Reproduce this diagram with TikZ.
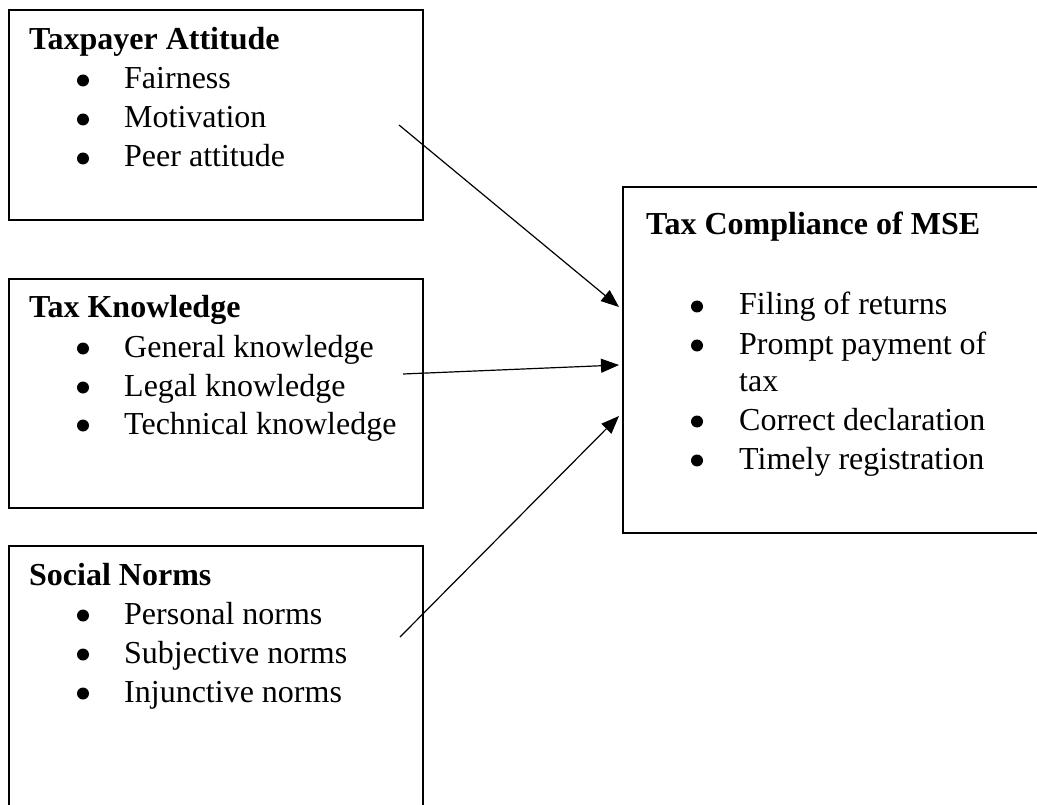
\documentclass[tikz,border=0pt]{standalone}
\usepackage{fontspec}
\setmainfont{Liberation Serif}
\usetikzlibrary{arrows.meta}
\tikzset{
  box/.style={draw=black, line width=1.6pt, anchor=north west, inner sep=0pt},
  txt/.style={anchor=base west, inner sep=0pt, font=\fontsize{32}{39}\selectfont},
  head/.style={txt, font=\fontsize{32}{39}\selectfont\bfseries},
  bul/.style={fill=black},
  conn/.style={line width=1.2pt, -{Triangle[length=18pt,width=14pt]}}
}
\begin{document}
\begin{tikzpicture}[x=1pt,y=-1pt]
\useasboundingbox (0,0) rectangle (1037,805);
\clip (0,0) rectangle (1037,805);
% boxes
\node[box, minimum width=414pt, minimum height=210pt] (b1) at (8,9) {};
\node[box, minimum width=414pt, minimum height=229pt] (b2) at (8,278) {};
\node[box, minimum width=414pt, minimum height=310pt] (b3) at (8,545) {};
\node[box, minimum width=430pt, minimum height=346pt] (b4) at (622,186) {};
% box 1
\node[head] (h1) at (29,50) {Taxpayer Attitude};
\node[txt] (i11) at (124,89) {Fairness};
\node[txt] (i12) at (124,128) {Motivation};
\node[txt] (i13) at (124,167) {Peer attitude};
\foreach \y in {89,128,167} \fill[bul] (83,\y-8.5) circle (6pt);
% box 2
\node[head] (h2) at (29,317) {Tax Knowledge};
\node[txt] (i21) at (124,357) {General knowledge};
\node[txt] (i22) at (124,396) {Legal knowledge};
\node[txt] (i23) at (124,434) {Technical knowledge};
\foreach \y in {357,396,434} \fill[bul] (83,\y-8.5) circle (6pt);
% box 3
\node[head] (h3) at (29,585) {Social Norms};
\node[txt] (i31) at (124,624) {Personal norms};
\node[txt] (i32) at (124,663) {Subjective norms};
\node[txt] (i33) at (124,702) {Injunctive norms};
\foreach \y in {624,663,702} \fill[bul] (83,\y-8.5) circle (6pt);
% box 4
\node[head] (h4) at (646,235) {Tax Compliance of MSE};
\node[txt] (i41) at (739,315) {Filing of returns};
\node[txt] (i42) at (739,354) {Prompt payment of};
\node[txt] (i42b) at (739,391) {tax};
\node[txt] (i43) at (739,430) {Correct declaration};
\node[txt] (i44) at (739,469) {Timely registration};
\foreach \y in {315,354,430,469} \fill[bul] (697,\y-8.5) circle (6pt);
% connectors
\coordinate (s1) at (399,125);
\coordinate (e1) at (619,307);
\coordinate (s2) at (403,374);
\coordinate (e2) at (619,365);
\coordinate (s3) at (400,637);
\coordinate (e3) at (619,416);
\draw[conn] (s1) -- (e1);
\draw[conn] (s2) -- (e2);
\draw[conn] (s3) -- (e3);
\end{tikzpicture}
\end{document}
